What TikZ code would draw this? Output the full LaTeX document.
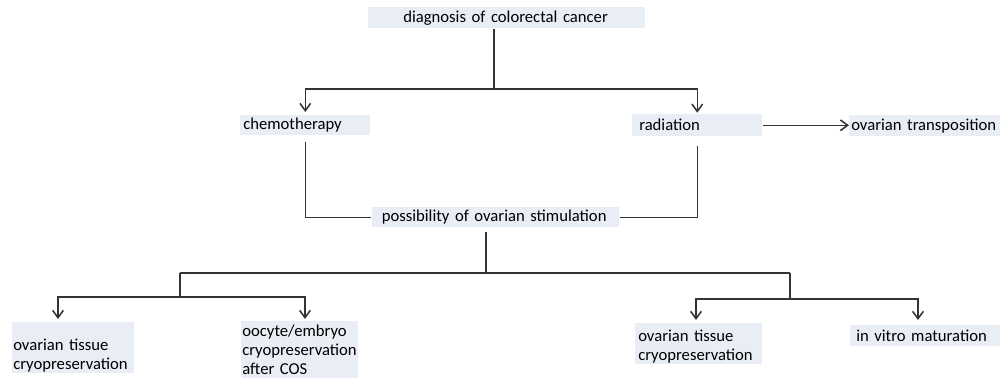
\documentclass[tikz,border=0pt]{standalone}
\usepackage{fontspec}
\setmainfont{Carlito}
\usetikzlibrary{arrows.meta}
\definecolor{boxfill}{HTML}{E9EDF5}
\definecolor{linec}{HTML}{333333}
\begin{document}
\begin{tikzpicture}[x=0.75pt,y=-0.75pt,
  box/.style={fill=boxfill, inner ysep=0pt, anchor=north west, align=left,
    font=\fontsize{12.5pt}{14.3pt}\selectfont, text=black},
  conn/.style={draw=linec, line width=1.15pt},
  arr/.style={conn, -{Straight Barb[length=5.5pt,width=8pt]}}]
\useasboundingbox (0,0) rectangle (1000,379);

% boxes
\node[box, inner xsep=26.25pt, text width=155.25pt, minimum height=15.75pt] (diag) at (368,7) {diagnosis of colorectal cancer};
\node[box, inner xsep=2.25pt, text width=93pt, minimum height=15pt] (chemo) at (240,115) {chemotherapy};
\node[box, inner xsep=5.25pt, text width=87pt, minimum height=16.5pt] (rad) at (632,114) {radiation};
\node[box, inner xsep=1.5pt, text width=110.25pt, minimum height=15.75pt] (transp) at (849,115) {ovarian transposition};
\node[box, inner xsep=7.125pt, text width=171pt, minimum height=15pt] (poss) at (372,207) {possibility of ovarian stimulation};
\node[box, inner xsep=0.75pt, text width=90pt, minimum height=38.25pt] (ovt1) at (12,322) {\rule{0pt}{20pt}ovarian tissue\\cryopreservation};
\node[box, inner xsep=0.75pt, text width=86.25pt, minimum height=42.75pt] (oocyte) at (241,321) {oocyte/embryo\\cryopreservation\\after COS};
\node[box, inner xsep=2.25pt, text width=90.75pt, minimum height=30.75pt] (ovt2) at (635,323) {\rule{0pt}{13.5pt}ovarian tissue\\cryopreservation};
\node[box, inner xsep=4.5pt, text width=103.5pt, minimum height=15.75pt] (ivm) at (850,325) {in vitro maturation};

% junction coordinates
\coordinate (t) at (494,89);
\coordinate (m) at (486,273);
\coordinate (L) at (180,273);
\coordinate (Lb) at (180,297);
\coordinate (R) at (790,273);
\coordinate (Rb) at (790,299);
\coordinate (a1) at (58,297);
\coordinate (a2) at (305,297);
\coordinate (a3) at (696,299);
\coordinate (a4) at (918,299);

% connectors
\draw[conn] (diag.south -| t) -- (t);
\draw[arr] (t) -| ([yshift=2.25pt]chemo.north);
\draw[arr] (t) -| ([yshift=1pt]rad.north);
\draw[arr] (rad.east) -- (rad.east -| transp.west);
\draw[conn] ([yshift=-4.5pt]chemo.south) |- ([xshift=-1pt]poss.west);
\draw[conn] ([yshift=-6.75pt]rad.south) |- (poss.east);
\draw[conn] ([yshift=-3.5pt]poss.south -| m) -- (m);
\draw[conn] (L) -- (R);
\draw[conn] (L) -- (Lb);
\draw[conn] (R) -- (Rb);
\draw[arr] (Lb) -| ([yshift=2.25pt]ovt1.north -| a1);
\draw[arr] (Lb) -| ([yshift=1.5pt]oocyte.north -| a2);
\draw[arr] (Rb) -| ([yshift=2.25pt]ovt2.north -| a3);
\draw[arr] (Rb) -| ([yshift=3.75pt]ivm.north -| a4);
\end{tikzpicture}
\end{document}
